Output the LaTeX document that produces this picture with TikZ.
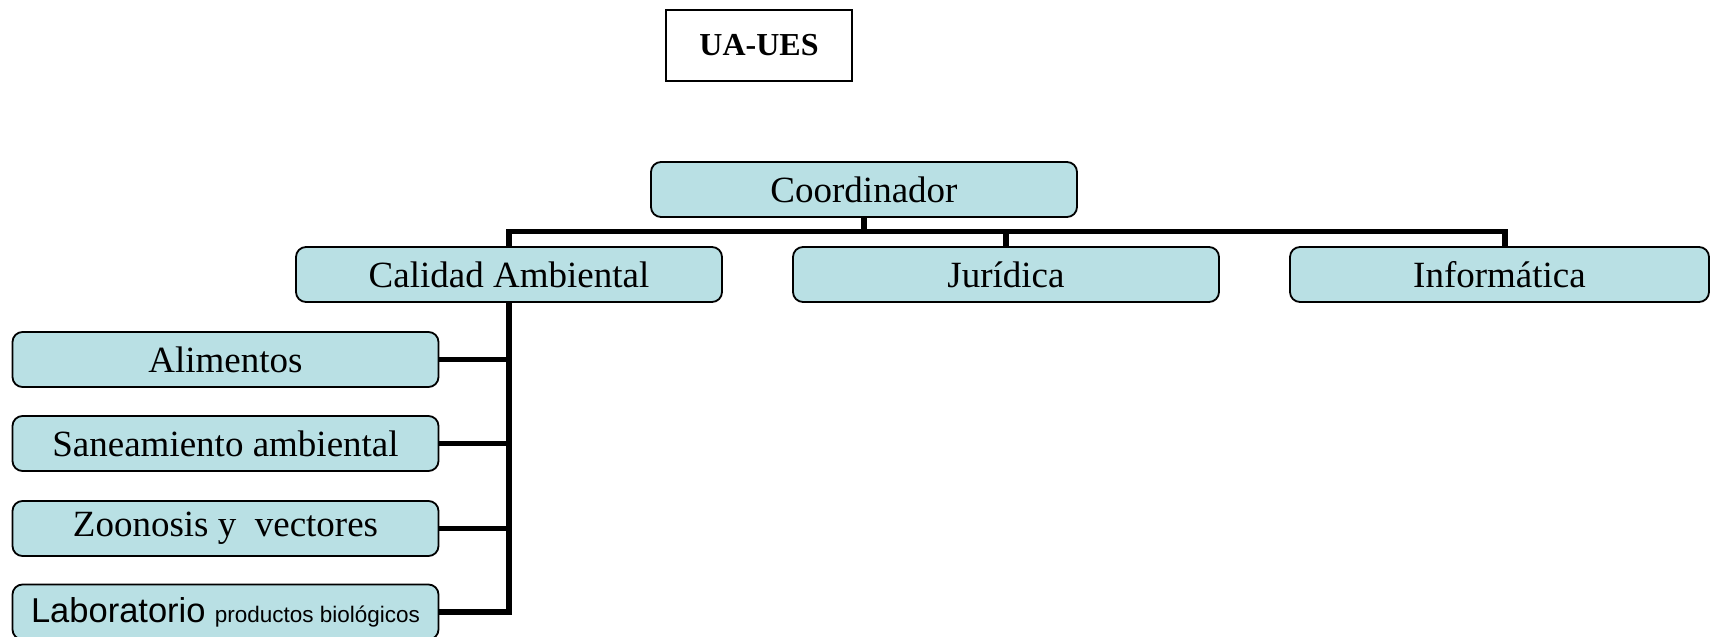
\documentclass[tikz,border=0pt]{standalone}
\usepackage{fontspec}
\setmainfont{Liberation Serif}
\newfontfamily\arialfont{Liberation Sans}
\definecolor{boxfill}{RGB}{185,224,228}
\begin{document}
\begin{tikzpicture}[x=1pt,y=-1pt,
  orgbox/.style={draw=black, line width=1.8pt, fill=boxfill, rounded corners=10pt,
    minimum width=426pt, minimum height=55pt, inner sep=0pt, outer sep=0pt,
    font=\fontsize{37}{40}\selectfont},
  titlebox/.style={draw=black, line width=2pt, fill=white,
    minimum width=186pt, minimum height=71pt, inner sep=0pt, outer sep=0pt,
    font=\bfseries\fontsize{32}{36}\selectfont},
  conn/.style={line width=5.3pt, line join=miter}]
\useasboundingbox (0,0) rectangle (1711,637);
\node[titlebox] (ua) at (759,45.5) {UA-UES};
\node[orgbox] (coord) at (864,189.5) {Coordinador};
\node[orgbox] (cal) at (509,274.5) {Calidad Ambiental};
\node[orgbox] (jur) at (1006,274.5) {Jurídica};
\node[orgbox, minimum width=419pt] (inf) at (1499.5,274.5) {Informática};
\node[orgbox] (ali) at (225.5,359.5) {Alimentos};
\node[orgbox] (san) at (225.5,443.5) {Saneamiento ambiental};
\node[orgbox] (zoo) at (225.5,528.5) {Zoonosis y\ \ vectores};
\node[orgbox] (lab) at (225.5,612) {{\arialfont\fontsize{34.5}{37}\selectfont Laboratorio} {\arialfont\fontsize{22.5}{25}\selectfont productos biológicos}};
\coordinate (bar) at (0,231.5);
\coordinate (infdrop) at ([xshift=5.5pt]inf.north);
\draw[conn] (coord.south) -- (coord.south |- bar);
\draw[conn] (cal.north) -- (cal.north |- bar) -- (infdrop |- bar) -- (infdrop);
\draw[conn] (jur.north) -- (jur.north |- bar);
\draw[conn] (cal.south) |- (lab.east);
\draw[conn] (ali.east) -- (ali.east -| cal.south);
\draw[conn] (san.east) -- (san.east -| cal.south);
\draw[conn] (zoo.east) -- (zoo.east -| cal.south);
\end{tikzpicture}
\end{document}
